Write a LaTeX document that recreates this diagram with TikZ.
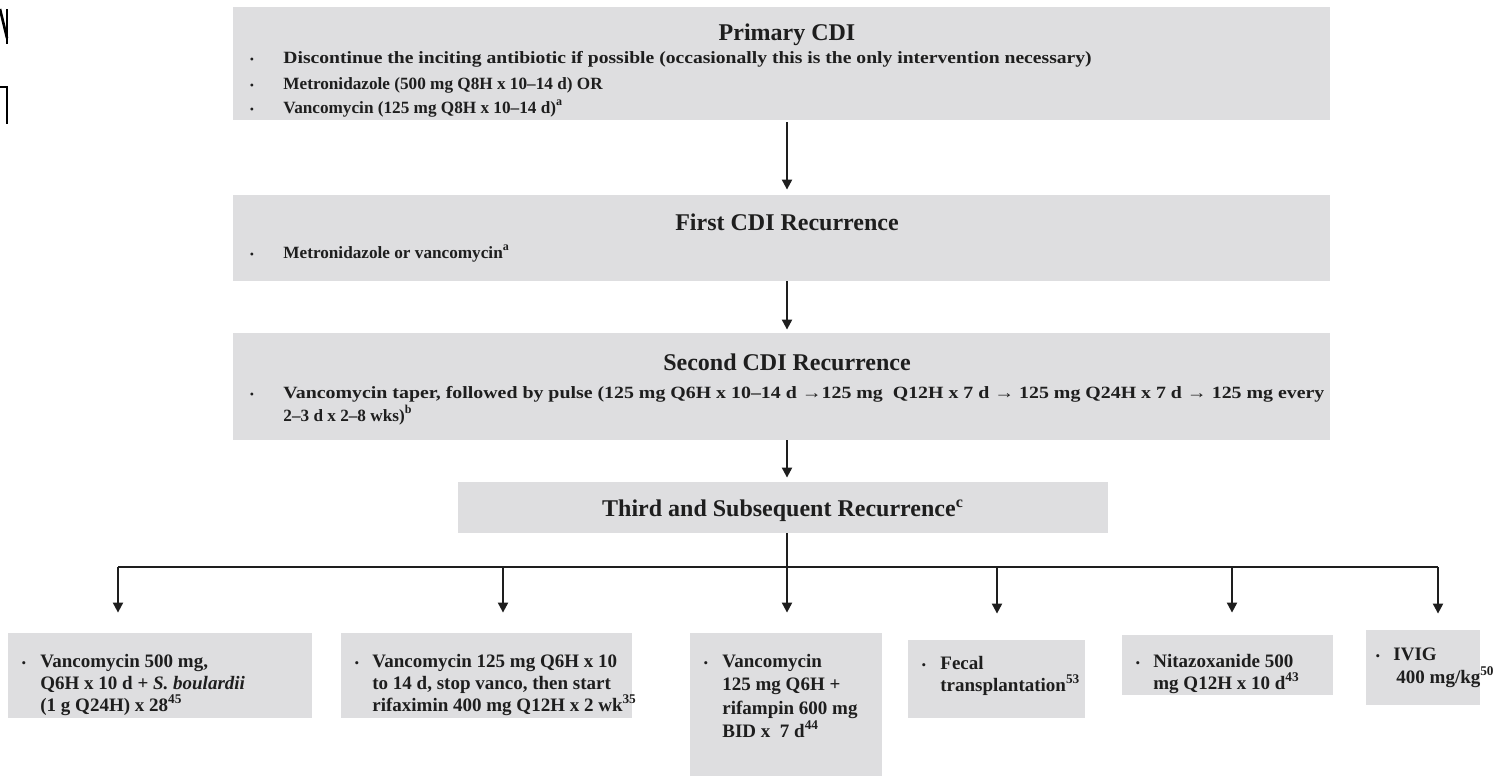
\documentclass[tikz,border=0pt]{standalone}
\usepackage{fontspec}
\setmainfont{Liberation Serif}
\usetikzlibrary{arrows.meta}
\definecolor{boxgray}{HTML}{DEDEE0}
\definecolor{ink}{HTML}{1E1E1E}
\tikzset{
  box/.style={fill=boxgray, draw=none, inner sep=0pt, rectangle},
  ttl/.style={font=\fontsize{12}{14}\selectfont\bfseries, text=ink, inner sep=0pt, anchor=base},
  body/.style={font=\fontsize{8.6}{12}\selectfont\bfseries, text=ink, inner sep=0pt, anchor=base west},
  bl/.style={font=\fontsize{9.5}{11}\selectfont\bfseries, text=ink, inner sep=0pt, anchor=base west},
  bulA/.style={font=\fontsize{6}{7}\selectfont, text=ink, inner sep=0pt, anchor=base},
  bulB/.style={font=\fontsize{6.5}{7}\selectfont, text=ink, inner sep=0pt, anchor=base},
  arr/.style={-{Triangle[length=5pt,width=5pt]}, line width=1pt, draw=ink},
  conn/.style={line width=1pt, draw=ink},
  glyph/.style={line width=1.3pt, draw=black}
}
\begin{document}
\begin{tikzpicture}[x=0.5pt,y=-0.5pt]
\useasboundingbox (0,0) rectangle (1497,776);
% cut-off glyph fragments at the left margin
\draw[glyph] (0,9) -- (7,38);
\draw[glyph] (7,9) -- (7,44);
\draw[glyph] (0,87) -- (7,87) -- (7,124);

% boxes
\node[box, minimum width=548.5pt, minimum height=56.5pt] (P) at (781.5,63.5) {};
\node[box, minimum width=548.5pt, minimum height=43pt] (F) at (781.5,238) {};
\node[box, minimum width=548.5pt, minimum height=53.5pt] (S) at (781.5,386.5) {};
\node[box, minimum width=325pt, minimum height=25.5pt] (T) at (783,507.5) {};
\node[box, minimum width=152pt, minimum height=42.5pt] (B1) at (160,675.5) {};
\node[box, minimum width=145.5pt, minimum height=42.5pt] (B2) at (486.5,675.5) {};
\node[box, minimum width=96pt, minimum height=71.5pt] (B3) at (786,704.5) {};
\node[box, minimum width=88.5pt, minimum height=39pt] (B4) at (996.5,679) {};
\node[box, minimum width=105.5pt, minimum height=30pt] (B5) at (1227.5,665) {};
\node[box, minimum width=57pt, minimum height=37.5pt] (B6) at (1423,667.5) {};

% Primary CDI
\node[ttl] (Pt) at (787,40) {Primary CDI};
\node[bulA] (Pb1) at (252,63) {•};
\node[bulA] (Pb2) at (252,89) {•};
\node[bulA] (Pb3) at (252,113) {•};
\node[body] (P1) at (283,63) {\scalebox{1.14}[1]{Discontinue the inciting antibiotic if possible (occasionally this is the only intervention necessary)}};
\node[body] (P2) at (283,89) {Metronidazole (500 mg Q8H x 10–14 d) OR};
\node[body] (P3) at (283,113) {Vancomycin (125 mg Q8H x 10–14 d)\textsuperscript{a}};

% First recurrence
\node[ttl] (Ft) at (787,230) {First CDI Recurrence};
\node[bulA] (Fb1) at (252,258) {•};
\node[body] (F1) at (283,258) {Metronidazole or vancomycin\textsuperscript{a}};

% Second recurrence
\node[ttl] (St) at (787,370) {Second CDI Recurrence};
\node[bulA] (Sb1) at (252,398) {•};
\node[body] (S1) at (283,398) {\scalebox{1.155}[1]{Vancomycin taper, followed by pulse (125 mg Q6H x 10–14 d →125 mg~ Q12H x 7 d → 125 mg Q24H x 7 d → 125 mg every}};
\node[body] (S2) at (283,421) {2–3 d x 2–8 wks)\textsuperscript{b}};

% Third
\node[ttl] (Tt) at (783,516) {Third and Subsequent Recurrence\textsuperscript{c}};

% bottom boxes
\node[bulB] (B1b) at (24,667) {•};
\node[bl] (B1a) at (40,667) {Vancomycin 500 mg,};
\node[bl] (B1c) at (40,689) {Q6H x 10 d + \textit{S. boulardii}};
\node[bl] (B1d) at (40,711) {(1 g Q24H) x 28\textsuperscript{45}};

\node[bulB] (B2b) at (357,667) {•};
\node[bl] (B2a) at (372,667) {Vancomycin 125 mg Q6H x 10};
\node[bl] (B2c) at (372,689) {to 14 d, stop vanco, then start};
\node[bl] (B2d) at (372,711) {rifaximin 400 mg Q12H x 2 wk\textsuperscript{35}};

\node[bulB] (B3b) at (706,667) {•};
\node[bl] (B3a) at (722,667) {Vancomycin};
\node[bl] (B3c) at (722,690) {125 mg Q6H +};
\node[bl] (B3d) at (722,714) {rifampin 600 mg};
\node[bl] (B3e) at (722,737) {BID x~ 7 d\textsuperscript{44}};

\node[bulB] (B4b) at (924,669) {•};
\node[bl] (B4a) at (940,669) {Fecal};
\node[bl] (B4c) at (940,691) {transplantation\textsuperscript{53}};

\node[bulB] (B5b) at (1138,667) {•};
\node[bl] (B5a) at (1153,667) {Nitazoxanide 500};
\node[bl] (B5c) at (1153,689) {mg Q12H x 10 d\textsuperscript{43}};

\node[bulB] (B6b) at (1378,660) {•};
\node[bl] (B6a) at (1393,660) {IVIG};
\node[bl] (B6c) at (1396,683) {400 mg/kg\textsuperscript{50}};

% connectors
\draw[arr, shorten <=1pt, shorten >=2.5pt] (P.south -| Pt) -- (F.north -| Pt);
\draw[arr, shorten >=1.5pt] (F.south -| Pt) -- (S.north -| Pt);
\draw[arr, shorten >=2pt] (S.south -| Pt) -- (T.north -| Pt);
\coordinate (a1) at (118,567);
\coordinate (a2) at (503,567);
\coordinate (a3) at (787,567);
\coordinate (a4) at (997,567);
\coordinate (a5) at (1232,567);
\coordinate (a6) at (1438,567);
\draw[conn] (a1) -- (a6);
\draw[conn] (T.south -| a3) -- (a3);
\draw[arr, shorten >=10pt] (a1) -- (a1 |- B1.north);
\draw[arr, shorten >=10pt] (a2) -- (a2 |- B2.north);
\draw[arr, shorten >=10pt] (a3) -- (a3 |- B3.north);
\draw[arr, shorten >=13pt] (a4) -- (a4 |- B4.north);
\draw[arr, shorten >=11pt] (a5) -- (a5 |- B5.north);
\draw[arr, shorten >=8pt] (a6) -- (a6 |- B6.north);
\end{tikzpicture}
\end{document}
